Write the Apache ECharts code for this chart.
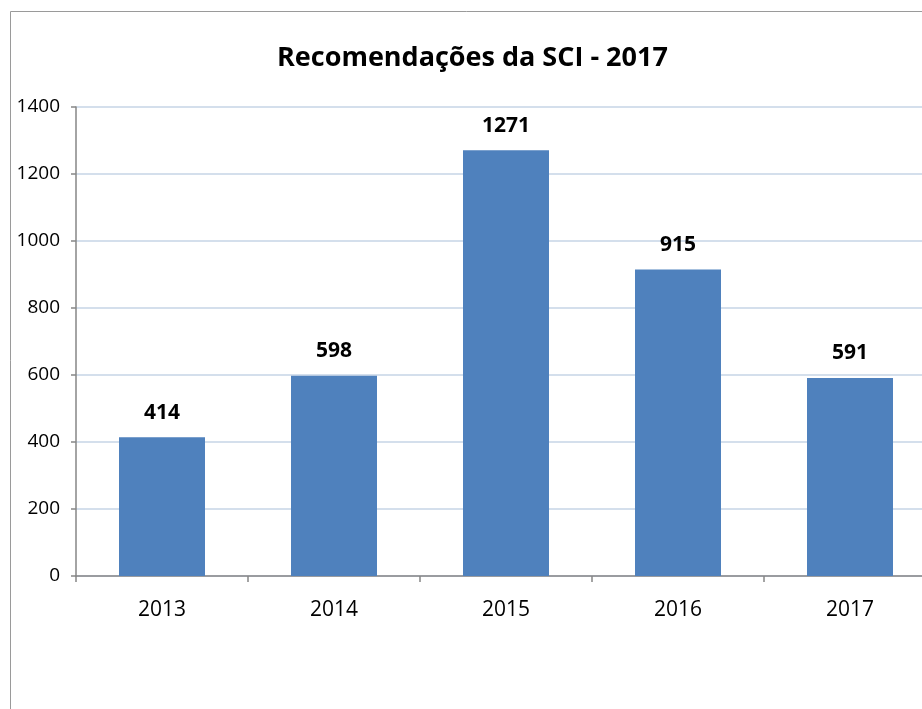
<!DOCTYPE html>
<html><head><meta charset="utf-8">
<script src="https://cdn.jsdelivr.net/npm/echarts@6/dist/echarts.min.js"></script>
<style>html,body{margin:0;padding:0;background:#fff}#c{width:922px;height:709px}</style>
</head><body><div id="c"></div>
<script>
const titleText = 'Recomendações da SCI - 2017';
const categories = ['2013', '2014', '2015', '2016', '2017'];
const values = [414, 598, 1271, 915, 591];
const yTicks = [0, 200, 400, 600, 800, 1000, 1200, 1400];

const chart = echarts.init(document.getElementById('c'), null, {renderer: 'canvas'});
const font = '"Open Sans", sans-serif';
chart.setOption({
  animation: false,
  backgroundColor: '#fff',
  title: {
    text: titleText, left: 272, top: 40,
    textStyle: {fontFamily: font, fontSize: 27, fontWeight: 'bold', color: '#000'}
  },
  graphic: [
    {type: 'line', shape: {x1: 10.5, y1: 11.5, x2: 10.5, y2: 709}, style: {stroke: '#9a9a9a', lineWidth: 1}},
    {type: 'line', shape: {x1: 10.5, y1: 11.5, x2: 922, y2: 11.5}, style: {stroke: '#9a9a9a', lineWidth: 1}}
  ],
  grid: {left: 76, top: 107, width: 860, bottom: 133, containLabel: false, outerBoundsMode: 'none'},
  xAxis: {
    type: 'category', data: categories,
    axisLine: {lineStyle: {color: '#868686', width: 1.5}},
    axisTick: {show: true, length: 6, lineStyle: {color: '#868686', width: 1.5}},
    axisLabel: {fontFamily: font, fontSize: 21, color: '#000', margin: 24}
  },
  yAxis: {
    type: 'value', min: yTicks[0], max: yTicks[yTicks.length - 1], interval: 200,
    axisLine: {show: true, lineStyle: {color: '#868686', width: 1.5}},
    axisTick: {show: true, length: 5, lineStyle: {color: '#868686', width: 1.5}},
    axisLabel: {fontFamily: font, fontSize: 19, color: '#000', margin: 16, formatter: v => String(v)},
    splitLine: {lineStyle: {color: '#c6d5e6', width: 1.5}}
  },
  series: [{
    type: 'bar', data: values, barWidth: '50%',
    itemStyle: {color: '#4f81bd'},
    label: {show: true, position: 'top', distance: 14, fontFamily: font, fontSize: 21, fontWeight: 'bold', color: '#000'}
  }]
});
</script></body></html>
